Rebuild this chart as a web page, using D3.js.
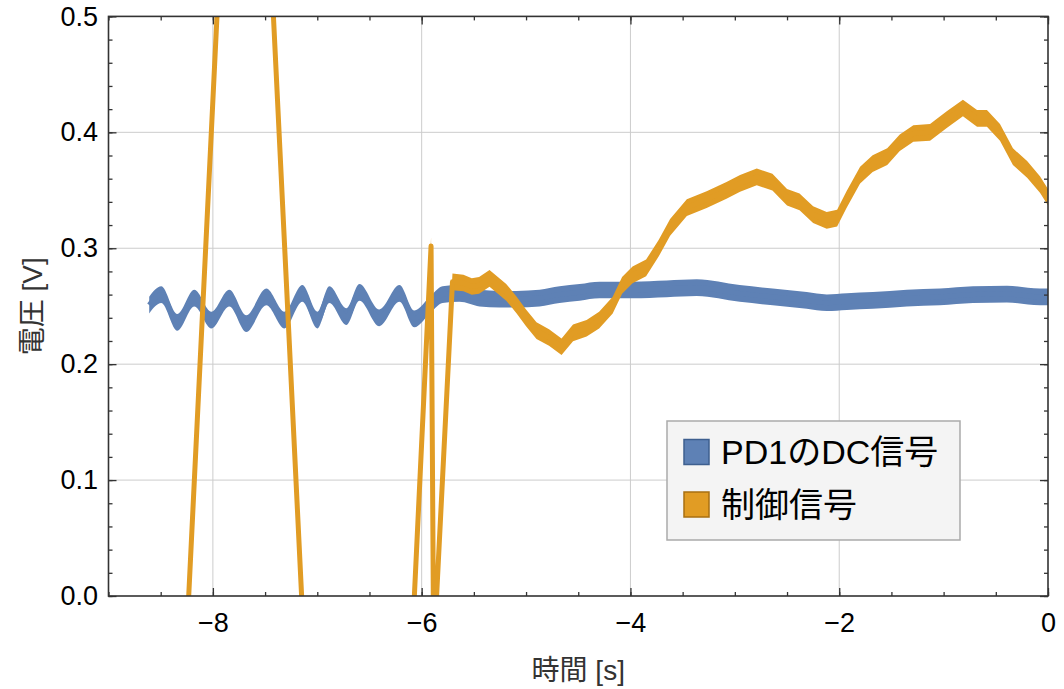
<!DOCTYPE html>
<html><head><meta charset="utf-8">
<script src="https://cdn.jsdelivr.net/npm/d3@7"></script>
<style>
body{margin:0;background:#fff;}
text{font-family:"Liberation Sans",Arial,"Noto Sans CJK JP",sans-serif;}
</style></head>
<body><svg id="chart" width="1064" height="689"></svg>
<script>
// ---- data ----
const xTicks = [-8, -6, -4, -2, 0];
const yTicks = [0.0, 0.1, 0.2, 0.3, 0.4, 0.5];
const seriesNames = ["PD1のDC信号", "制御信号"];

const blueT = [-8.61,-8.495,-8.341,-8.178,-8.015,-7.843,-7.680,-7.488,-7.315,-7.143,-6.999,-6.884,-6.721,-6.596,-6.405,-6.213,-6.07,-5.93,-5.80,-5.638,-5.446,-5.254,-5.091,-4.871,-4.679,-4.487,-4.295,-3.979,-3.653,-3.365,-2.953,-2.637,-2.311,-2.119,-1.927,-1.678,-1.352,-1.035,-0.719,-0.393,-0.077,0];
const blueV = [0.251,0.260,0.236,0.257,0.238,0.257,0.235,0.258,0.238,0.261,0.238,0.260,0.241,0.262,0.240,0.261,0.239,0.250,0.260,0.261,0.257,0.256,0.256,0.257,0.260,0.262,0.264,0.264,0.265,0.266,0.261,0.258,0.255,0.253,0.254,0.255,0.257,0.258,0.260,0.2605,0.258,0.258];

const orangeT = [-8.6,-7.69,-6.61,-6.07,-5.91,-5.885,-5.705,-5.60,-5.52,-5.45,-5.35,-5.27,-5.19,-5.09,-5.0,-4.90,-4.78,-4.66,-4.55,-4.42,-4.30,-4.17,-4.08,-3.98,-3.85,-3.73,-3.62,-3.46,-3.27,-3.08,-2.95,-2.79,-2.64,-2.50,-2.38,-2.25,-2.12,-2.02,-1.93,-1.80,-1.68,-1.54,-1.42,-1.29,-1.13,-0.97,-0.815,-0.68,-0.585,-0.46,-0.336,-0.20,-0.077,0];
const orangeV = [-0.68,1.0,-1.0,0,0.302,-0.05,0.271,0.270,0.267,0.268,0.274,0.268,0.262,0.251,0.240,0.229,0.223,0.215,0.227,0.231,0.238,0.251,0.268,0.277,0.283,0.300,0.318,0.335,0.342,0.350,0.356,0.3615,0.357,0.344,0.340,0.329,0.324,0.326,0.342,0.363,0.373,0.379,0.391,0.399,0.400,0.411,0.421,0.412,0.412,0.400,0.379,0.368,0.355,0.344];

const noiseHalf = 0.0072; // half-width of the measurement noise band (V)

// ---- layout ----
const svg = d3.select("#chart");
const L = 108.5, R = 1048, T = 16.4, B = 596;
const x = d3.scaleLinear().domain([-9, 0]).range([L, R]);
const y = d3.scaleLinear().domain([0, 0.5]).range([B, T]);
const blue = "#5E81B5", orange = "#E19C24";

svg.append("defs").append("clipPath").attr("id","clip")
  .append("rect").attr("x",L).attr("y",T).attr("width",R-L).attr("height",B-T);

// grid
const grid = svg.append("g").attr("stroke","#cccccc").attr("stroke-width",1);
xTicks.filter(d=>d>-9 && d<0).forEach(d=>grid.append("line").attr("x1",x(d)).attr("x2",x(d)).attr("y1",T).attr("y2",B));
yTicks.filter(d=>d>0 && d<0.5).forEach(d=>grid.append("line").attr("y1",y(d)).attr("y2",y(d)).attr("x1",L).attr("x2",R));

// series
const plot = svg.append("g").attr("clip-path","url(#clip)");
function drawSeries(T_, V_, color, curve){
  const pts = T_.map((t,i)=>[t, V_[i]]);
  plot.append("path").datum(pts)
    .attr("d", d3.area().x(d=>x(d[0])).y0(d=>y(d[1]-noiseHalf)).y1(d=>y(d[1]+noiseHalf)).curve(curve))
    .attr("fill", color);
  plot.append("path").datum(pts)
    .attr("d", d3.line().x(d=>x(d[0])).y(d=>y(d[1])).curve(curve))
    .attr("fill","none").attr("stroke",color).attr("stroke-width",5).attr("stroke-linejoin","round");
}
drawSeries(blueT, blueV, blue, d3.curveMonotoneX);
drawSeries(orangeT, orangeV, orange, d3.curveLinear);

// axes (ticks inward on all sides)
const fs = 27;
function styleAxis(g){ g.select(".domain").remove(); g.selectAll(".tick line").attr("stroke","#333").attr("stroke-width",1.3);
  g.selectAll("text").attr("font-size",fs).attr("fill","#000").style("font-family",'"Liberation Sans",Arial,sans-serif'); }
const minorX = d3.range(-9, 0.001, 0.5), minorY = d3.range(0, 0.5001, 0.02);
svg.append("g").attr("transform",`translate(0,${B})`).call(d3.axisBottom(x).tickValues(minorX).tickSize(-4).tickFormat("")).call(styleAxis);
svg.append("g").attr("transform",`translate(0,${T})`).call(d3.axisTop(x).tickValues(minorX).tickSize(-4).tickFormat("")).call(styleAxis);
svg.append("g").attr("transform",`translate(${L},0)`).call(d3.axisLeft(y).tickValues(minorY).tickSize(-4).tickFormat("")).call(styleAxis);
svg.append("g").attr("transform",`translate(${R},0)`).call(d3.axisRight(y).tickValues(minorY).tickSize(-4).tickFormat("")).call(styleAxis);

svg.append("g").attr("transform",`translate(0,${B})`).call(d3.axisBottom(x).tickValues(xTicks).tickSizeInner(-8).tickSizeOuter(0).tickPadding(17).tickFormat(d3.format("d"))).call(styleAxis);
svg.append("g").attr("transform",`translate(0,${T})`).call(d3.axisTop(x).tickValues(xTicks).tickSizeInner(-8).tickSizeOuter(0).tickFormat("")).call(styleAxis);
svg.append("g").attr("transform",`translate(${L},0)`).call(d3.axisLeft(y).tickValues(yTicks).tickSizeInner(-8).tickSizeOuter(0).tickPadding(10.5).tickFormat(d3.format(".1f"))).call(styleAxis);
svg.append("g").attr("transform",`translate(${R},0)`).call(d3.axisRight(y).tickValues(yTicks).tickSizeInner(-8).tickSizeOuter(0).tickFormat("")).call(styleAxis);

// frame
svg.append("rect").attr("x",L).attr("y",T).attr("width",R-L).attr("height",B-T)
  .attr("fill","none").attr("stroke","#333").attr("stroke-width",1.6);

// axis labels
svg.append("text").attr("x",(L+R)/2).attr("y",680).attr("text-anchor","middle")
  .attr("font-size",28).attr("fill","#333").text("時間 [s]");
svg.append("text").attr("transform",`translate(32,${(T+B)/2}) rotate(-90)`).attr("text-anchor","middle")
  .attr("dominant-baseline","central").attr("font-size",28).attr("fill","#333").text("電圧 [V]");

// legend
const lg = svg.append("g");
lg.append("rect").attr("x",667).attr("y",421).attr("width",293).attr("height",119)
  .attr("fill","#f4f4f4").attr("stroke","#aaaaaa").attr("stroke-width",1.5);
const legColors = [blue, orange], legBorders = ["#3e5f8f", "#a86f10"];
seriesNames.forEach((name,i)=>{
  const cy = 452 + i*52.5;
  lg.append("rect").attr("x",684).attr("y",cy-12.5).attr("width",25).attr("height",25)
    .attr("fill",legColors[i]).attr("stroke",legBorders[i]).attr("stroke-width",1.5);
  lg.append("text").attr("x",721).attr("y",cy+12).attr("font-size",34).attr("fill","#000").text(name);
});
</script></body></html>
